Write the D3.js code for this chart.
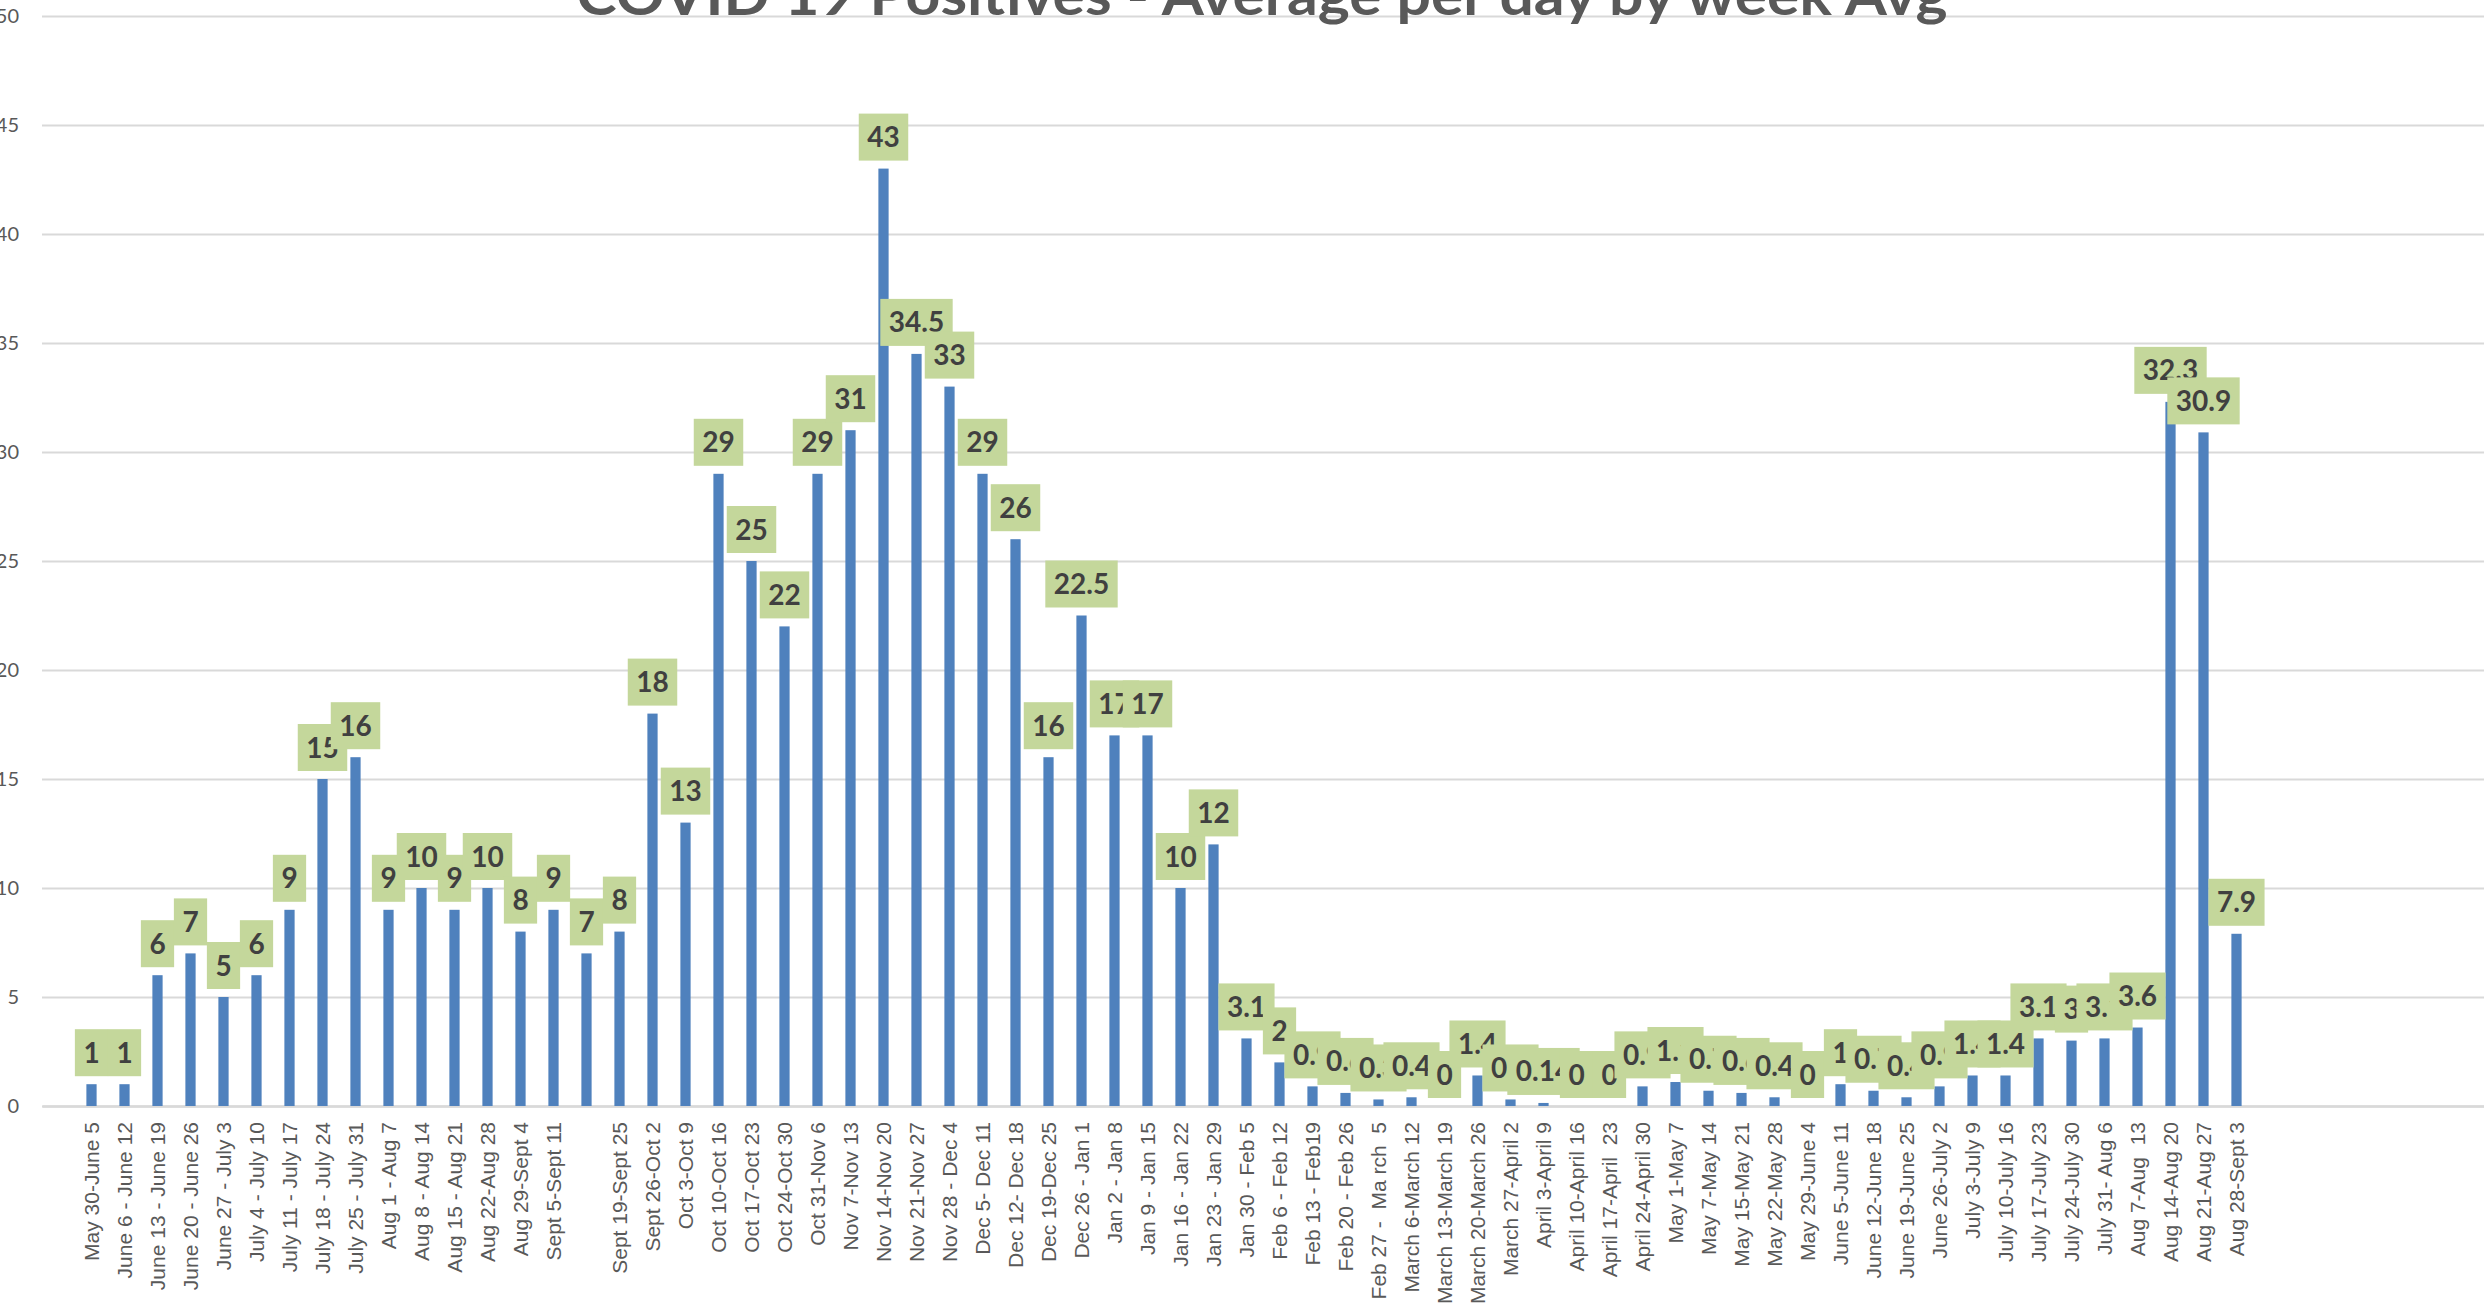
<!DOCTYPE html>
<html>
<head>
<meta charset="utf-8">
<script src="https://cdn.jsdelivr.net/npm/d3@7"></script>
<style>
  body { margin: 0; background: #fff; overflow: hidden; }
  text { white-space: pre; }
</style>
</head>
<body>
<svg id="chart"></svg>
<script>
// weekly ranges, one blank week in September
var weeks = [
  "May 30-June 5", "June 6 - June 12", "June 13 - June 19", "June 20 - June 26", "June 27 - July 3",
  "July 4 - July 10", "July 11 - July 17", "July 18 - July 24", "July 25 - July 31", "Aug 1 - Aug 7",
  "Aug 8 - Aug 14", "Aug 15 - Aug 21", "Aug 22-Aug 28", "Aug 29-Sept 4", "Sept 5-Sept 11",
  "", "Sept 19-Sept 25", "Sept 26-Oct 2", "Oct 3-Oct 9", "Oct 10-Oct 16",
  "Oct 17-Oct 23", "Oct 24-Oct 30", "Oct 31-Nov 6", "Nov 7-Nov 13", "Nov 14-Nov 20",
  "Nov 21-Nov 27", "Nov 28 - Dec 4", "Dec 5- Dec 11", "Dec 12- Dec 18", "Dec 19-Dec 25",
  "Dec 26 - Jan 1", "Jan 2 - Jan 8", "Jan 9 - Jan 15", "Jan 16 - Jan 22", "Jan 23 - Jan 29",
  "Jan 30 - Feb 5", "Feb 6 - Feb 12", "Feb 13 - Feb19", "Feb 20 - Feb 26", "Feb 27 -  Ma rch  5",
  "March 6-March 12", "March 13-March 19", "March 20-March 26", "March 27-April 2", "April 3-April 9",
  "April 10-April 16", "April 17-April  23", "April 24-April 30", "May 1-May 7", "May 7-May 14",
  "May 15-May 21", "May 22-May 28", "May 29-June 4", "June 5-June 11", "June 12-June 18",
  "June 19-June 25", "June 26-July 2", "July 3-July 9", "July 10-July 16", "July 17-July 23",
  "July 24-July 30", "July 31- Aug 6", "Aug 7-Aug  13", "Aug 14-Aug 20", "Aug 21-Aug 27",
  "Aug 28-Sept 3"
];

var cases = [
  1, 1, 6, 7, 5,
  6, 9, 15, 16, 9,
  10, 9, 10, 8, 9,
  7, 8, 18, 13, 29,
  25, 22, 29, 31, 43,
  34.5, 33, 29, 26, 16,
  22.5, 17, 17, 10, 12,
  3.1, 2, 0.9, 0.6, 0.3,
  0.4, 0, 1.4, 0.3, 0.14,
  0, 0, 0.9, 1.1, 0.7,
  0.6, 0.4, 0, 1, 0.7,
  0.4, 0.9, 1.4, 1.4, 3.1,
  3, 3.1, 3.6, 32.3, 30.9,
  7.9
];

var yTicks = [0, 5, 10, 15, 20, 25, 30, 35, 40, 45, 50];
var title = "COVID 19 Positives - Average per day by week Avg";

var width = 2484, height = 1312;
var plotLeft = 42, plotRight = 2484;
var slots = 74; // one empty slot before the data, a few after

var svg = d3.select('#chart')
    .attr('width', width)
    .attr('height', height);

svg.append('rect')
    .attr('width', width)
    .attr('height', height)
    .attr('fill', '#fff');

var x = d3.scaleBand()
    .domain(d3.range(slots))
    .range([plotLeft, plotRight])
    .paddingInner(0.69)
    .paddingOuter(0.345);

var y = d3.scaleLinear()
    .domain([0, 50])
    .range([1106, 16]);

// gridlines + y labels
var yAxis = svg.append('g')
    .attr('transform', 'translate(' + plotLeft + ',0)')
    .call(d3.axisLeft(y)
        .tickValues(yTicks)
        .tickSize(-(plotRight - plotLeft))
        .tickPadding(23));

yAxis.select('.domain').remove();
yAxis.selectAll('line')
    .attr('stroke', '#d9d9d9')
    .attr('stroke-width', 2);
yAxis.selectAll('text')
    .attr('fill', '#595959')
    .style('font-family', 'Lato, "Open Sans", sans-serif')
    .style('font-size', '20px');

// title (top is cut off in the original)
svg.append('text')
    .attr('x', 1262)
    .attr('y', 15)
    .attr('text-anchor', 'middle')
    .attr('fill', '#595959')
    .attr('textLength', 1371)
    .attr('lengthAdjust', 'spacingAndGlyphs')
    .style('font-family', 'Lato, "Open Sans", sans-serif')
    .style('font-weight', 'bold')
    .style('font-size', '56px')
    .text(title);

// x axis with rotated week labels
var xAxis = svg.append('g')
    .attr('transform', 'translate(0,' + y(0) + ')')
    .call(d3.axisBottom(x)
        .tickValues(d3.range(1, weeks.length + 1))
        .tickFormat(function(s) { return weeks[s - 1]; })
        .tickSize(0)
        .tickSizeOuter(0));

xAxis.select('.domain')
    .attr('stroke', '#d9d9d9')
    .attr('stroke-width', 2.5);
xAxis.selectAll('text')
    .attr('transform', 'rotate(-90)')
    .attr('text-anchor', 'end')
    .attr('x', -16)
    .attr('y', 0)
    .attr('dy', '0.35em')
    .attr('fill', '#595959')
    .style('font-family', '"Liberation Sans", Arial, sans-serif')
    .style('font-size', '21px');

// bars
svg.append('g')
    .selectAll('rect')
    .data(cases)
    .join('rect')
    .attr('x', function(d, i) { return x(i + 1); })
    .attr('width', x.bandwidth())
    .attr('y', function(d) { return y(d); })
    .attr('height', function(d) { return y(0) - y(d); })
    .attr('fill', '#4f81bd');

// data callouts, drawn in order so later boxes cover earlier ones
var boxH = 47, gap = 8, pad = 8.5;

svg.append('g')
    .selectAll('g')
    .data(cases)
    .join('g')
    .each(function(d, i) {
        var g = d3.select(this);
        var cx = x(i + 1) + x.bandwidth() / 2;
        var bottom = y(d) - gap;

        var rect = g.append('rect')
            .attr('fill', '#c4d79b');

        var txt = g.append('text')
            .attr('fill', '#404040')
            .style('font-family', 'Lato, "Open Sans", sans-serif')
            .style('font-weight', 'bold')
            .style('font-size', '28px')
            .text(String(d));

        var w = txt.node().getComputedTextLength();

        rect.attr('x', cx - w / 2 - pad)
            .attr('y', bottom - boxH)
            .attr('width', w + pad * 2)
            .attr('height', boxH);

        txt.attr('x', cx - w / 2)
            .attr('y', bottom - boxH / 2 + 10);
    });
</script>
</body>
</html>
